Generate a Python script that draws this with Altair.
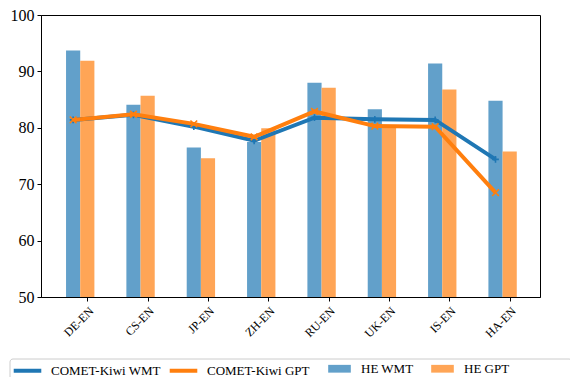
import altair as alt
import pandas as pd

langs = ["DE-EN", "CS-EN", "JP-EN", "ZH-EN", "RU-EN", "UK-EN", "IS-EN", "HA-EN"]
he_wmt = [93.7, 84.1, 76.5, 77.5, 88.0, 83.3, 91.4, 84.8]
he_gpt = [91.9, 85.7, 74.6, 79.9, 87.1, 80.0, 86.8, 75.8]
kiwi_wmt = [81.4, 82.3, 80.2, 77.7, 81.8, 81.5, 81.4, 74.4]
kiwi_gpt = [81.4, 82.4, 80.7, 78.4, 82.9, 80.3, 80.2, 68.5]

line_names = ["COMET-Kiwi WMT", "COMET-Kiwi GPT"]
line_colors = ["#1f77b4", "#ff7f0e"]
bar_names = ["HE WMT", "HE GPT"]
bar_colors = ["#62a0ca", "#ffa556"]

rows = []
for name, vals in zip(line_names + bar_names, [kiwi_wmt, kiwi_gpt, he_wmt, he_gpt]):
    for i, (lang, v) in enumerate(zip(langs, vals)):
        rows.append({"i": i, "lang": lang, "series": name, "value": v})
df = pd.DataFrame(rows)

FONT = "Liberation Serif"
label_expr = "[" + ",".join("'%s'" % l for l in langs) + "][datum.value]"

xscale = alt.Scale(domain=[-0.77, 7.5], nice=False, zero=False)
yscale = alt.Scale(domain=[50, 100], nice=False, zero=False)

xaxis = alt.Axis(values=list(range(len(langs))), labelExpr=label_expr, title=None,
                 labelAngle=-45, labelAlign="right", labelBaseline="top",
                 labelFontSize=12, labelFont=FONT, labelColor="black",
                 tickColor="black", tickSize=4, domainColor="black", grid=False,
                 labelPadding=4)
yaxis = alt.Axis(values=[50, 60, 70, 80, 90, 100], title=None, labelFontSize=16,
                 labelFont=FONT, labelColor="black", tickColor="black", tickSize=4,
                 domainColor="black", grid=False, labelPadding=3)

line_legend = alt.Legend(title=None, orient="none", legendX=-29, legendY=346,
                         direction="horizontal", columns=2, columnPadding=0,
                         labelFont=FONT, labelFontSize=13, labelColor="black",
                         symbolType="M-1.95,0H1.95", symbolSize=200,
                         symbolStrokeWidth=4, symbolOffset=6, labelOffset=14, padding=0)
bar_legend = alt.Legend(title=None, orient="none", legendX=287, legendY=346,
                        direction="horizontal", columns=2, columnPadding=17,
                        labelFont=FONT, labelFontSize=13, labelColor="black",
                        symbolType="M-1.6,-0.55H1.6V0.55H-1.6Z", symbolSize=200,
                        symbolStrokeWidth=0, symbolOffset=4, labelOffset=14, padding=0)

stroke_enc = alt.Stroke("series:N", scale=alt.Scale(domain=line_names, range=line_colors),
                        legend=line_legend)
fill_enc = alt.Fill("series:N", scale=alt.Scale(domain=bar_names, range=bar_colors),
                    legend=bar_legend)

base = alt.Chart(df)

bars = base.transform_filter(
    "datum.series == 'HE WMT' || datum.series == 'HE GPT'"
).transform_calculate(
    xl="datum.i + (datum.series == 'HE WMT' ? -0.355 : -0.12)",
    xr="datum.i + (datum.series == 'HE WMT' ? -0.12 : 0.115)",
).mark_bar(strokeWidth=0).encode(
    x=alt.X("xl:Q", scale=xscale, axis=xaxis),
    x2="xr:Q",
    y=alt.Y("value:Q", scale=yscale, axis=yaxis),
    y2=alt.datum(50),
    fill=fill_enc,
)


def line_layer(name, path):
    sub = base.transform_filter(alt.datum.series == name).transform_calculate(
        xc="datum.i - 0.2375")
    ln = sub.mark_line(strokeWidth=4).encode(
        x=alt.X("xc:Q", scale=xscale), y=alt.Y("value:Q", scale=yscale), stroke=stroke_enc)
    pt = sub.mark_point(shape=path, filled=False, strokeWidth=1.6, size=45, opacity=1).encode(
        x=alt.X("xc:Q", scale=xscale), y=alt.Y("value:Q", scale=yscale), stroke=stroke_enc)
    return ln + pt


wmt_line = line_layer("COMET-Kiwi WMT", "M-1,0H1M0,-1V1")
gpt_line = line_layer("COMET-Kiwi GPT", "M-1,-1L1,1M-1,1L1,-1")

frame = alt.Chart(pd.DataFrame({"k": [0]})).mark_rect(
    fill="white", stroke="#cccccc", strokeWidth=1, cornerRadius=3, clip=False
).encode(x=alt.value(-31), x2=alt.value(531), y=alt.value(344), y2=alt.value(367))

chart = alt.layer(frame, bars, wmt_line, gpt_line).properties(
    width=499, height=282,
    autosize=alt.AutoSizeParams(type="none"),
    padding={"left": 33, "top": 7, "right": 30, "bottom": 80},
).configure(font=FONT).configure_view(stroke="black", strokeWidth=1)

chart.save("out.html", embed_options={"renderer": "svg", "actions": False})
